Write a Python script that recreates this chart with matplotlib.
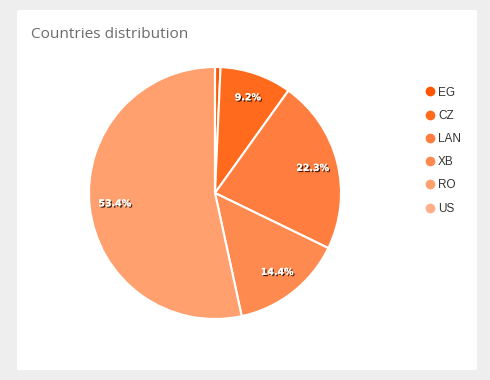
import matplotlib.pyplot as plt
from matplotlib.patches import FancyBboxPatch
from matplotlib.lines import Line2D
import matplotlib.patheffects as pe

countries = ['EG', 'CZ', 'LAN', 'XB', 'RO', 'US']
shares = [0.7, 9.2, 22.3, 14.4, 53.4, 0.0]
colors = ['#ff5500', '#ff6a1c', '#ff7d3e', '#ff8a50', '#ffa06e', '#ffae88']

fig = plt.figure(figsize=(4.9, 3.8), dpi=100)
fig.patch.set_facecolor('#eeeeee')

# white card
card = FancyBboxPatch((17/490, 10/380), 460/490, 360/380,
                      boxstyle='round,pad=0,rounding_size=0.004',
                      transform=fig.transFigure, facecolor='white',
                      edgecolor='none', zorder=-5)
fig.patches.append(card)

fig.text(31/490, 1 - 34/380, 'Countries distribution', fontsize=11.1,
         color='#6b6b6b', family='Open Sans', va='center', ha='left')

# pie centred at (215,193) px, radius 126 px
ax = fig.add_axes([(215-126)/490, (380-193-126)/380, 252/490, 252/380])
ax.set_zorder(2)
wedges, texts, autotexts = ax.pie(
    shares, colors=colors, startangle=90, counterclock=False,
    autopct=lambda p: '%.1f%%' % p if p > 5 else '',
    pctdistance=0.8, radius=1,
    wedgeprops=dict(edgecolor='white', linewidth=1.5))
for t in autotexts:
    t.set_color('white')
    t.set_fontsize(6.8)
    t.set_fontweight('bold')
    t.set_family('DejaVu Sans')
    t.set_path_effects([pe.withSimplePatchShadow(offset=(1, -1), shadow_rgbFace='black', alpha=0.75),
                        pe.Normal()])
ax.set_xlim(-1, 1)
ax.set_ylim(-1, 1)
ax.set_aspect('equal')
ax.axis('off')

handles = [Line2D([], [], marker='o', linestyle='none', markersize=7,
                  markerfacecolor=c, markeredgecolor='none') for c in colors]
fig.legend(handles, countries, loc='upper left',
           bbox_to_anchor=(412/490, 1 - 76/380), frameon=False,
           labelspacing=0.95, handletextpad=0.1,
           handlelength=1.2, labelcolor='#333333',
           prop={'family': 'Liberation Sans', 'size': 8.5})

fig.savefig('out.png', dpi=100, facecolor=fig.get_facecolor())
